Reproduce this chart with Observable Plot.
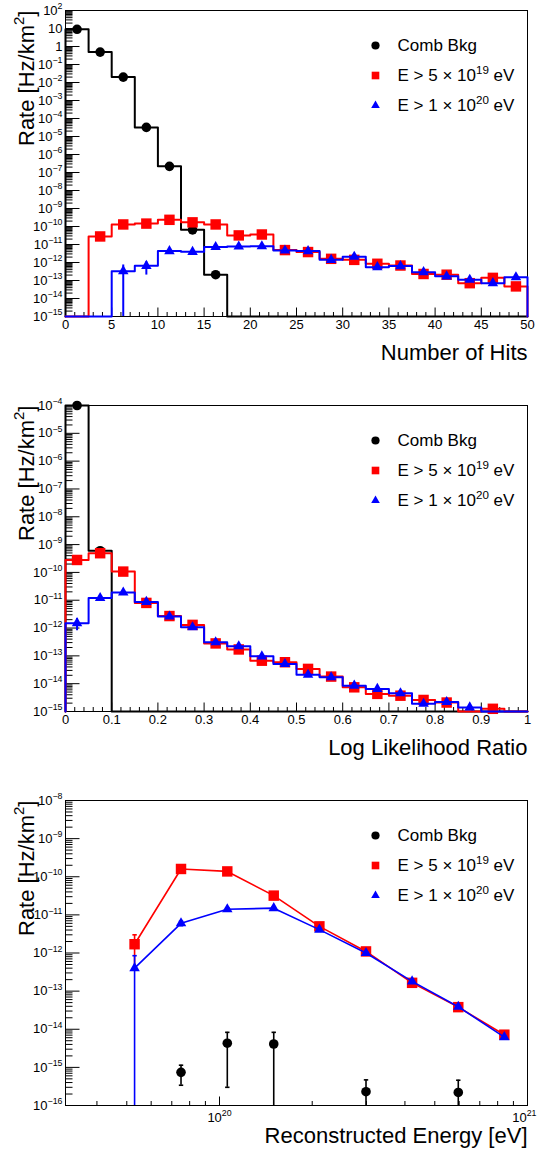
<!DOCTYPE html>
<html><head><meta charset="utf-8">
<script src="https://cdn.jsdelivr.net/npm/d3@7"></script>
<script src="https://cdn.jsdelivr.net/npm/@observablehq/plot@0.6"></script>
<style>
body{margin:0;background:#fff;}
#chart svg{display:block;}
</style>
</head><body><div id="chart"></div>
<script>
// ---------------- DATA ----------------
const seriesNames = ["Comb Bkg", "E > 5 × 10^{19} eV", "E > 1 × 10^{20} eV"];

// Panel 1: Number of Hits (bins of 2.5)
const hitsEdges = [0,2.5,5,7.5,10,12.5,15,17.5,20,22.5,25,27.5,30,32.5,35,37.5,40,42.5,45,47.5,50];
const hitsBkg = [9, 0.49, 0.02, 3.2e-5, 2.2e-7, 6.5e-11, 2.1e-13, 0,0,0,0,0,0,0,0,0,0,0,0,0];
const hitsE5  = [0, 2.8e-11, 1.3e-10, 1.45e-10, 2.35e-10, 1.7e-10, 1.3e-10, 3.2e-11, 3.6e-11, 4.9e-12, 3.8e-12, 1.6e-12, 1.4e-12, 8.5e-13, 6.8e-13, 2.3e-13, 2.1e-13, 7.1e-14, 1.4e-13, 4.7e-14];
const hitsE20 = [0, 0, 3.3e-13, 6.5e-13, 4.3e-12, 3.9e-12, 7.2e-12, 7.7e-12, 8e-12, 4.6e-12, 4.3e-12, 1.4e-12, 2.1e-12, 5.5e-13, 6.3e-13, 2.9e-13, 1.7e-13, 1.1e-13, 7.1e-14, 1.5e-13];
const hitsE20Err = [0, 0, 4e-13, 4.5e-13, 0,0,0,0,0,0,0,0,0,0,0,0,0,0,0,0];
const hitsXTicks = [0,5,10,15,20,25,30,35,40,45,50];
const hitsYExp = [-15,-14,-13,-12,-11,-10,-9,-8,-7,-6,-5,-4,-3,-2,-1,0,1,2];

// Panel 2: Log Likelihood Ratio (bins of 0.05)
const llrEdges = [0,0.05,0.1,0.15,0.2,0.25,0.3,0.35,0.4,0.45,0.5,0.55,0.6,0.65,0.7,0.75,0.8,0.85,0.9,0.95,1];
const llrBkg = [1e-4, 6e-10, 0,0,0,0,0,0,0,0,0,0,0,0,0,0,0,0,0,0];
const llrE5  = [2.8e-10, 4.9e-10, 1.07e-10, 8e-12, 2.7e-12, 1.3e-12, 2.8e-13, 1.7e-13, 6.7e-14, 5.9e-14, 3.4e-14, 1.8e-14, 7.4e-15, 4.3e-15, 3.7e-15, 2.6e-15, 2.1e-15, 0, 1.25e-15, 0];
const llrE20 = [1.5e-12, 1.2e-11, 1.9e-11, 8.7e-12, 2.6e-12, 1.07e-12, 3.1e-13, 2.2e-13, 9.6e-14, 5.1e-14, 2.1e-14, 1.7e-14, 8.5e-15, 6.5e-15, 4.5e-15, 1.9e-15, 2.2e-15, 1.4e-15, 0, 0];
const llrE20Err = [7e-13, 0,0,0,0,0,0,0,0,0,0,0,0,0,0,0,0,0,0,0];
const llrXTicks = [0,0.1,0.2,0.3,0.4,0.5,0.6,0.7,0.8,0.9,1];
const llrYExp = [-15,-14,-13,-12,-11,-10,-9,-8,-7,-6,-5,-4];

// Panel 3: Reconstructed Energy
const energy  = [5.3e19, 7.5e19, 1.06e20, 1.5e20, 2.11e20, 2.99e20, 4.22e20, 5.96e20, 8.41e20];
const enE5    = [1.7e-12, 1.6e-10, 1.38e-10, 3.2e-11, 5e-12, 1.1e-12, 1.65e-13, 3.8e-14, 7.2e-15];
const enE5Err = [1.3e-12, 8e-12, 7e-12, 2e-12, 3e-13, 6e-14, 8e-15, 2e-15, 4e-16];
const enE20    = [4e-13, 6e-12, 1.4e-11, 1.5e-11, 4.1e-12, 1e-12, 1.8e-13, 3.9e-14, 6.2e-15];
const enE20Err = [4.5e-13, 8e-13, 1.2e-12, 1.2e-12, 3e-13, 6e-14, 8e-15, 2e-15, 4e-16];
const enBkgX   = [7.5e19, 1.06e20, 1.5e20, 2.99e20, 5.96e20];
const enBkg    = [7.4e-16, 4.3e-15, 4.1e-15, 2.3e-16, 2.2e-16];
const enBkgErr = [4e-16, 4e-15, 4.2e-15, 2.4e-16, 2.4e-16];
const enXTicks = [1e20, 1e21];
const enXMinor = [4e19,5e19,6e19,7e19,8e19,9e19,2e20,3e20,4e20,5e20,6e20,7e20,8e20,9e20];
const enYExp = [-16,-15,-14,-13,-12,-11,-10,-9,-8];

// ---------------- HELPERS ----------------
const FONT = "'Liberation Sans', Arial, Helvetica, sans-serif";
const COL = ["#000000", "#ff0000", "#0000ff"];
const SYM = ["circle", "square", "triangle"];
const RAD = [4.8, 5.9, 3.9];
const LRAD = [4.1, 4.3, 3.2];

const tickH = {draw(ctx, size){ const l = Math.sqrt(size/Math.PI); ctx.moveTo(0,0); ctx.lineTo(l,0); }};
const tickV = {draw(ctx, size){ const l = Math.sqrt(size/Math.PI); ctx.moveTo(0,0); ctx.lineTo(0,-l); }};
const capSym = {draw(ctx, size){ const l = Math.sqrt(size/Math.PI); ctx.moveTo(-l,0); ctx.lineTo(l,0); }};

const powLabel = e => e === 0 ? "1" : e === 1 ? "10" : `10^{${e < 0 ? "−" + (-e) : e}}`;
const fmtPow = d => powLabel(Math.round(Math.log10(d)));

function minorLog(exps){
  const out = [];
  for (let i = 0; i < exps.length - 1; i++) for (let k = 2; k <= 9; k++) out.push(k * Math.pow(10, exps[i]));
  return out;
}
function stepData(edges, vals, ymin){
  const n = vals.length, pts = [{x: edges[0], y: ymin}];
  vals.forEach((v, i) => pts.push({x: edges[i], y: v > 0 ? v : ymin}));
  pts.push({x: edges[n], y: vals[n-1] > 0 ? vals[n-1] : ymin});
  pts.push({x: edges[n], y: ymin});
  return pts;
}
function centers(edges, vals, errs){
  return vals.map((v, i) => ({x: (edges[i] + edges[i+1]) / 2, y: v, e: errs ? errs[i] : 0})).filter(d => d.y > 0);
}
function errRows(pts, ymin){
  return pts.filter(d => d.e > 0).map(d => ({x: d.x, lo: d.y - d.e > ymin ? d.y - d.e : ymin, hi: d.y + d.e}));
}

function axesMarks(o){
  const yMaj = o.yExp.map(e => Math.pow(10, e));
  const yMin = minorLog(o.yExp);
  const labelTicks = o.xLabels || o.xMajor;
  return [
    Plot.dot(yMin, {y: d => d, frameAnchor: "left", symbol: tickH, r: 7, stroke: "black", fill: "none", strokeWidth: 1}),
    Plot.dot(yMaj, {y: d => d, frameAnchor: "left", symbol: tickH, r: 14, stroke: "black", fill: "none", strokeWidth: 1}),
    Plot.dot(o.xMinor, {x: d => d, frameAnchor: "bottom", symbol: tickV, r: 4.5, stroke: "black", fill: "none", strokeWidth: 1}),
    Plot.dot(o.xMajor, {x: d => d, frameAnchor: "bottom", symbol: tickV, r: 9, stroke: "black", fill: "none", strokeWidth: 1}),
    Plot.axisY({ticks: yMaj, tickSize: 0, tickPadding: 3, tickFormat: fmtPow, label: null, fontSize: 13}),
    Plot.axisX({ticks: labelTicks, tickSize: 0, tickPadding: o.xPad || 3, tickFormat: o.xFormat, label: null, fontSize: 13}),
    Plot.frame({stroke: "black", strokeWidth: 1})
  ];
}
function legendMarks(){
  const m = [];
  seriesNames.forEach((name, i) => {
    const dy = 35 + 30 * i;
    m.push(Plot.dot([name], {frameAnchor: "top-left", dx: 310, dy, symbol: SYM[i], r: LRAD[i], fill: COL[i]}));
    m.push(Plot.text([name], {frameAnchor: "top-left", dx: 332, dy, text: d => d, textAnchor: "start", lineAnchor: "middle", fontSize: 17}));
  });
  return m;
}
function titleMarks(xTitle, xDy){
  return [
    Plot.text(["Rate [Hz/km^{2}]"], {frameAnchor: "top-left", dx: -32, text: d => d, rotate: -90, textAnchor: "end", lineAnchor: "bottom", fontSize: 22}),
    Plot.text([xTitle], {frameAnchor: "bottom-right", dy: xDy, text: d => d, textAnchor: "end", lineAnchor: "bottom", fontSize: 22})
  ];
}
function histMarks(edges, list, ymin){
  const m = [];
  list.forEach(s => {
    const pts = centers(edges, s.vals, s.errs);
    m.push(Plot.line(stepData(edges, s.vals, ymin), {x: "x", y: "y", curve: "step-after", stroke: COL[s.i], strokeWidth: 2}));
    const er = errRows(pts, ymin);
    if (er.length) m.push(Plot.ruleX(er, {x: "x", y1: "lo", y2: "hi", stroke: COL[s.i], strokeWidth: 2}));
    m.push(Plot.dot(pts, {x: "x", y: "y", symbol: SYM[s.i], r: RAD[s.i], fill: COL[s.i]}));
  });
  return m;
}
function supify(root){
  root.querySelectorAll("text").forEach(t => {
    const s = t.textContent;
    if (!s.includes("^{")) return;
    const fs = parseFloat(getComputedStyle(t).fontSize) || 13;
    const ns = "http://www.w3.org/2000/svg";
    const mk = str => { const ts = document.createElementNS(ns, "tspan"); ts.textContent = str; return ts; };
    t.textContent = "";
    const re = /\^\{([^}]*)\}/g; let m, last = 0, back = 0;
    while ((m = re.exec(s))) {
      const before = s.slice(last, m.index);
      if (before) { const ts = mk(before); if (back) { ts.setAttribute("dy", back); back = 0; } t.appendChild(ts); }
      const sup = mk(m[1]); sup.setAttribute("font-size", (fs * 0.68).toFixed(1)); sup.setAttribute("dy", (-fs * 0.42 + back).toFixed(1));
      t.appendChild(sup); back = +(fs * 0.42).toFixed(1); last = re.lastIndex;
    }
    const rest = s.slice(last);
    if (rest) { const ts = mk(rest); if (back) ts.setAttribute("dy", back); t.appendChild(ts); }
  });
}
const baseStyle = {fontFamily: FONT, fontSize: "13px", background: "white", color: "black"};
const chart = document.getElementById("chart");

// ---------------- PANEL 1 ----------------
{
  const ymin = 1e-15;
  const xMinor = d3.range(0, 51, 1).filter(v => v % 5 !== 0);
  const p = Plot.plot({
    width: 537, height: 395, marginLeft: 65, marginRight: 10, marginTop: 10, marginBottom: 79,
    style: baseStyle,
    x: {type: "linear", domain: [0, 50]},
    y: {type: "log", domain: [1e-15, 1e2]},
    marks: [
      ...axesMarks({yExp: hitsYExp, xMajor: hitsXTicks, xMinor, xFormat: d => String(d)}),
      ...histMarks(hitsEdges, [
        {i: 0, vals: hitsBkg},
        {i: 1, vals: hitsE5},
        {i: 2, vals: hitsE20, errs: hitsE20Err}
      ], ymin),
      ...legendMarks(),
      ...titleMarks("Number of Hits", 43)
    ]
  });
  chart.appendChild(p);
}
// ---------------- PANEL 2 ----------------
{
  const ymin = 1e-15;
  const xMinor = d3.range(0, 51, 1).filter(v => v % 5 !== 0).map(v => v / 50);
  const p = Plot.plot({
    width: 537, height: 395, marginLeft: 65, marginRight: 10, marginTop: 10, marginBottom: 79,
    style: baseStyle,
    x: {type: "linear", domain: [0, 1]},
    y: {type: "log", domain: [1e-15, 1e-4]},
    marks: [
      ...axesMarks({yExp: llrYExp, xMajor: llrXTicks, xMinor, xFormat: d => String(d)}),
      ...histMarks(llrEdges, [
        {i: 0, vals: llrBkg},
        {i: 1, vals: llrE5},
        {i: 2, vals: llrE20, errs: llrE20Err}
      ], ymin),
      ...legendMarks(),
      ...titleMarks("Log Likelihood Ratio", 43)
    ]
  });
  chart.appendChild(p);
}
// ---------------- PANEL 3 ----------------
{
  const ymin = 1e-16;
  const mkPts = (xs, ys, es) => xs.map((x, i) => ({x, y: ys[i], e: es[i]}));
  const red = mkPts(energy, enE5, enE5Err), blue = mkPts(energy, enE20, enE20Err), blk = mkPts(enBkgX, enBkg, enBkgErr);
  const errMarks = (pts, i) => {
    const er = errRows(pts, ymin);
    return [
      Plot.ruleX(er, {x: "x", y1: "lo", y2: "hi", stroke: COL[i], strokeWidth: 1.6}),
      Plot.dot(er.filter(d => d.hi < 1e-8), {x: "x", y: "hi", symbol: capSym, r: 2.2, stroke: COL[i], fill: "none", strokeWidth: 1.6}),
      Plot.dot(er.filter(d => d.lo > ymin), {x: "x", y: "lo", symbol: capSym, r: 2.2, stroke: COL[i], fill: "none", strokeWidth: 1.6})
    ];
  };
  const p = Plot.plot({
    width: 537, height: 362, marginLeft: 65, marginRight: 10, marginTop: 10, marginBottom: 47,
    style: baseStyle,
    x: {type: "log", domain: [Math.pow(10, 19.5), 1e21]},
    y: {type: "log", domain: [1e-16, 1e-8]},
    marks: [
      ...axesMarks({yExp: enYExp, xMajor: enXTicks, xLabels: enXTicks.slice(0, 1), xMinor: enXMinor, xFormat: fmtPow, xPad: 7}),
      Plot.axisX({ticks: enXTicks.slice(1), tickSize: 0, tickPadding: 7, tickFormat: fmtPow, label: null, fontSize: 13, textAnchor: "end", dx: 9}),
      ...errMarks(blk, 0),
      Plot.dot(blk, {x: "x", y: "y", symbol: SYM[0], r: RAD[0], fill: COL[0]}),
      Plot.line(red, {x: "x", y: "y", stroke: COL[1], strokeWidth: 1.6}),
      ...errMarks(red, 1),
      Plot.dot(red, {x: "x", y: "y", symbol: SYM[1], r: RAD[1], fill: COL[1]}),
      Plot.line(blue, {x: "x", y: "y", stroke: COL[2], strokeWidth: 1.6}),
      ...errMarks(blue, 2),
      Plot.dot(blue, {x: "x", y: "y", symbol: SYM[2], r: RAD[2], fill: COL[2]}),
      ...legendMarks(),
      ...titleMarks("Reconstructed Energy [eV]", 37)
    ]
  });
  chart.appendChild(p);
}
supify(chart);
</script>
</body></html>
